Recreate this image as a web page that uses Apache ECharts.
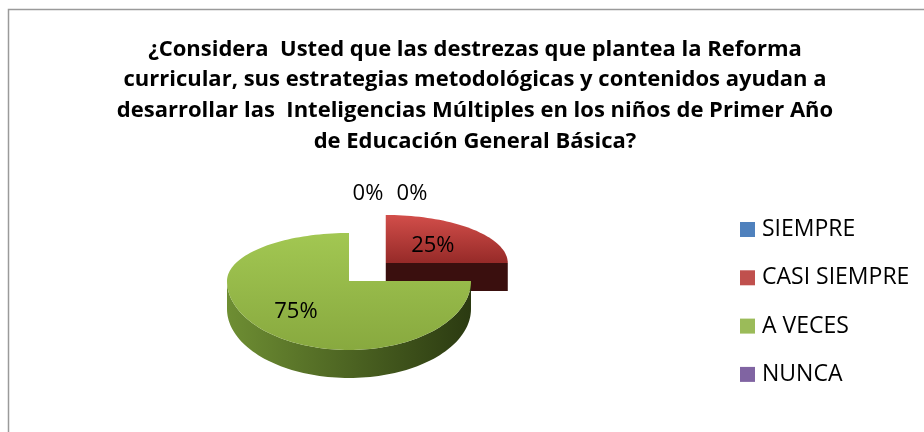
<!DOCTYPE html>
<html>
<head>
<meta charset="utf-8">
<script src="https://cdn.jsdelivr.net/npm/echarts@6/dist/echarts.min.js"></script>
<style>
html, body { margin: 0; padding: 0; background: #fff; }
#main { width: 924px; height: 432px; }
</style>
</head>
<body>
<div id="main"></div>
<script>
// datos del grafico
var titleLines = [
    '¿Considera  Usted que las destrezas que plantea la Reforma',
    'curricular, sus estrategias metodológicas y contenidos ayudan a',
    'desarrollar las  Inteligencias Múltiples en los niños de Primer Año',
    'de Educación General Básica?'
];
var categories = ['SIEMPRE', 'CASI SIEMPRE', 'A VECES', 'NUNCA'];
var values = [0, 25, 75, 0];
var percentLabels = ['0%', '25%', '75%', '0%'];

// colores (paleta Office)
var baseColors = ['#4F81BD', '#C0504D', '#9BBB59', '#8064A2'];
var topColors = [
    ['#6c98d0', '#3d6aa3'],
    ['#d24e4a', '#962a28'],
    ['#a2c752', '#88a93f'],
    ['#957ab8', '#6a4e8c']
];
var sideColors = [
    ['#3a5f8c', '#1a2b40'],
    ['#4b1614', '#3a0f0e'],
    ['#6e8e33', '#2b3a11'],
    ['#5c4677', '#2e2340']
];

// geometria del pastel (elipse con algo de perspectiva)
var cx = 349, cy = 281, rx = 122, ryBack = 48, ryFront = 69, depth = 28;
var explodeDist = 52;
var total = 0;
for (var i = 0; i < values.length; i++) total += values[i];

function pt(ox, oy, th, r) {
    var s = Math.sin(th);
    return [ox + r * rx * Math.cos(th), oy - r * (s > 0 ? ryBack : ryFront) * s];
}

function arcPts(ox, oy, a, b, dz) {
    // a > b, sentido horario
    var pts = [];
    var n = Math.max(2, Math.ceil((a - b) / (Math.PI / 90)));
    for (var k = 0; k <= n; k++) {
        var th = a - (a - b) * k / n;
        var p = pt(ox, oy, th, 1);
        pts.push([p[0], p[1] + dz]);
    }
    return pts;
}

function renderSlice(params, api) {
    var idx = params.dataIndex;
    var v = api.value(1);
    var cum = 0;
    for (var j = 0; j < idx; j++) cum += values[j];
    var a0 = Math.PI / 2 - 2 * Math.PI * cum / total;
    var a1 = a0 - 2 * Math.PI * v / total;
    var children = [];
    var font = '22px "Open Sans"';

    if (v === 0) {
        // etiqueta de 0% arriba del pastel
        var p0 = pt(cx, cy, a0, 1);
        children.push({
            type: 'text',
            style: {
                text: percentLabels[idx],
                x: p0[0] + (idx === 0 ? 19 : 63),
                y: p0[1] - 39,
                font: font,
                fill: '#000',
                align: 'center',
                verticalAlign: 'middle'
            }
        });
        return { type: 'group', children: children };
    }

    var mid = (a0 + a1) / 2;
    var ox = cx, oy = cy;
    if (idx === 1) {
        ox = cx + explodeDist * Math.cos(mid);
        oy = cy - explodeDist * Math.sin(mid) * 0.49;
    }

    // pared curva frontal
    for (var k = -2; k <= 1; k++) {
        var lo = -Math.PI + 2 * Math.PI * k, hi = 2 * Math.PI * k;
        var a = Math.min(a0, hi), b = Math.max(a1, lo);
        if (a > b + 1e-6) {
            var top = arcPts(ox, oy, a, b, 0);
            var bot = arcPts(ox, oy, a, b, depth).reverse();
            children.push({
                type: 'polygon',
                shape: { points: top.concat(bot) },
                style: {
                    fill: new echarts.graphic.LinearGradient(0, 0, 1, 0, [
                        { offset: 0, color: sideColors[idx][0] },
                        { offset: 1, color: sideColors[idx][1] }
                    ])
                }
            });
        }
    }

    // caras de corte visibles
    var cuts = [];
    if (Math.cos(a0) < -1e-6) cuts.push(a0);
    if (Math.cos(a1) > 1e-6) cuts.push(a1);
    for (var c = 0; c < cuts.length; c++) {
        var pe = pt(ox, oy, cuts[c], 1);
        children.push({
            type: 'polygon',
            shape: { points: [[ox, oy], pe, [pe[0], pe[1] + depth], [ox, oy + depth]] },
            style: { fill: sideColors[idx][1] }
        });
    }

    // cara superior
    var face = [[ox, oy]].concat(arcPts(ox, oy, a0, a1, 0));
    children.push({
        type: 'polygon',
        shape: { points: face },
        style: {
            fill: new echarts.graphic.LinearGradient(0, 0, 0, 1, [
                { offset: 0, color: topColors[idx][0] },
                { offset: 1, color: topColors[idx][1] }
            ])
        }
    });

    // etiqueta de porcentaje
    var pl = pt(ox, oy, mid, 0.58);
    children.push({
        type: 'text',
        style: {
            text: percentLabels[idx],
            x: pl[0] - 3,
            y: pl[1] + 2,
            font: font,
            fill: '#000',
            align: 'center',
            verticalAlign: 'middle'
        }
    });

    return { type: 'group', children: children };
}

var chart = echarts.init(document.getElementById('main'));

var sliceData = [];
var legendData = [];
for (var i = 0; i < categories.length; i++) {
    sliceData.push({ name: categories[i], value: [i, values[i]] });
    legendData.push({ name: categories[i], value: values[i], itemStyle: { color: baseColors[i] } });
}

var option = {
    backgroundColor: '#fff',
    animation: false,
    title: {
        text: titleLines.join('\n'),
        left: 475,
        top: 34,
        padding: 0,
        textAlign: 'center',
        textStyle: {
            fontFamily: 'Open Sans',
            fontSize: 22,
            fontWeight: 'bold',
            lineHeight: 30.7,
            color: '#000'
        }
    },
    legend: {
        orient: 'vertical',
        left: 740,
        top: 218,
        padding: 0,
        itemWidth: 15,
        itemHeight: 15,
        itemGap: 25.3,
        icon: 'rect',
        data: categories,
        selectedMode: false,
        textStyle: {
            fontFamily: 'Open Sans',
            fontSize: 23,
            lineHeight: 20,
            color: '#000',
            padding: [0, 0, 0, 2]
        }
    },
    graphic: [{
        type: 'rect',
        shape: { x: 8.5, y: 9.5, width: 1000, height: 1000 },
        style: { fill: null, stroke: '#9a9a9a', lineWidth: 1.5 },
        silent: true
    }],
    series: [
        {
            // solo para la leyenda
            type: 'pie',
            radius: [0, 0],
            center: [-50, -50],
            silent: true,
            label: { show: false },
            labelLine: { show: false },
            data: legendData
        },
        {
            type: 'custom',
            coordinateSystem: 'none',
            renderItem: renderSlice,
            data: sliceData
        }
    ]
};

chart.setOption(option);
</script>
</body>
</html>
